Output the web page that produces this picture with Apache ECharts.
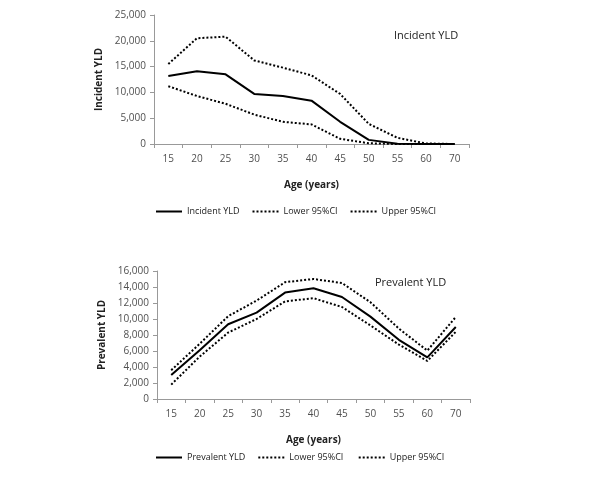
<!DOCTYPE html>
<html>
<head>
<meta charset="utf-8">
<script src="https://cdn.jsdelivr.net/npm/echarts@6/dist/echarts.min.js"></script>
<style>
html,body{margin:0;padding:0;background:#fff;}
#main{width:600px;height:486px;}
</style>
</head>
<body>
<div id="main"></div>
<script>
// age groups (x axis)
var ages = ['15','20','25','30','35','40','45','50','55','60','70'];
// incident YLD + 95% CI
var incident = [13200, 14100, 13500, 9700, 9300, 8400, 4300, 800, 50, 0, 0];
var incLower = [11200, 9300, 7800, 5700, 4300, 3800, 1000, 150, 0, 0, 0];
var incUpper = [15500, 20500, 20800, 16200, 14800, 13300, 9700, 3900, 1200, 100, 0];
// prevalent YLD + 95% CI
var prevalent = [3000, 6100, 9350, 10800, 13300, 13850, 12750, 10300, 7400, 5200, 9000];
var prevLower = [1800, 5300, 8300, 10000, 12200, 12600, 11500, 9200, 6800, 4750, 8400];
var prevUpper = [3600, 6900, 10350, 12300, 14600, 15000, 14500, 12100, 8800, 6050, 10250];

var txt = '#505050';
var font = 'Open Sans';

function fmt(v){ return v.toLocaleString('en-US'); }

function xAx(idx){
	return {
		type:'category', gridIndex:idx, data:ages, boundaryGap:true,
		name:'Age (years)', nameLocation:'middle', nameGap:36,
		nameTextStyle:{color:'#222', fontWeight:'bold', fontSize:10, fontFamily:font},
		axisLine:{lineStyle:{color:'#999', width:1}},
		axisTick:{show:true, interval:0, length:4, lineStyle:{color:'#999'}},
		axisLabel:{color:txt, fontSize:10, fontFamily:font, margin:10, interval:0}
	};
}
function yAx(idx, name, max, step){
	return {
		type:'value', gridIndex:idx, min:0, max:max, interval:step,
		name:name, nameLocation:'middle', nameGap:47, nameRotate:90,
		nameTextStyle:{color:'#222', fontWeight:'bold', fontSize:10, fontFamily:font},
		axisLine:{show:true, lineStyle:{color:'#999', width:1}},
		axisTick:{show:true, length:4, lineStyle:{color:'#999'}},
		splitLine:{show:false},
		axisLabel:{color:txt, fontSize:10, fontFamily:font, margin:8, formatter:fmt}
	};
}
function ln(name, data, idx, dotted){
	return {
		name:name, type:'line', xAxisIndex:idx, yAxisIndex:idx, data:data,
		symbol:'none', silent:true,
		lineStyle:{color:'#000', width:2, type: dotted ? 'dotted' : 'solid'},
		itemStyle:{color:'#000'}
	};
}
function lg(names, top){
	return {
		data:names, left:150, top:top, itemGap:12, itemWidth:26, itemHeight:8,
		itemStyle:{opacity:0},
		textStyle:{color:'#222', fontSize:9, fontFamily:font}
	};
}

var myChart = echarts.init(document.getElementById('main'));
myChart.setOption({
	animation:false,
	title:[
		{text:'Incident YLD', left:389, top:25, textStyle:{color:'#222', fontSize:11, fontWeight:'normal', fontFamily:font}},
		{text:'Prevalent YLD', left:370, top:272, textStyle:{color:'#222', fontSize:11, fontWeight:'normal', fontFamily:font}}
	],
	legend:[
		lg(['Incident YLD','Lower 95%CI','Upper 95%CI'], 202),
		lg(['Prevalent YLD','Lower 95%CI ','Upper 95%CI '], 448)
	],
	grid:[
		{left:154, right:131, top:15, bottom:342},
		{left:157, right:130, top:271, bottom:87}
	],
	xAxis:[xAx(0), xAx(1)],
	yAxis:[yAx(0,'Incident YLD',25000,5000), yAx(1,'Prevalent YLD',16000,2000)],
	series:[
		ln('Incident YLD', incident, 0, false),
		ln('Lower 95%CI', incLower, 0, true),
		ln('Upper 95%CI', incUpper, 0, true),
		ln('Prevalent YLD', prevalent, 1, false),
		ln('Lower 95%CI ', prevLower, 1, true),
		ln('Upper 95%CI ', prevUpper, 1, true)
	]
});
</script>
</body>
</html>
